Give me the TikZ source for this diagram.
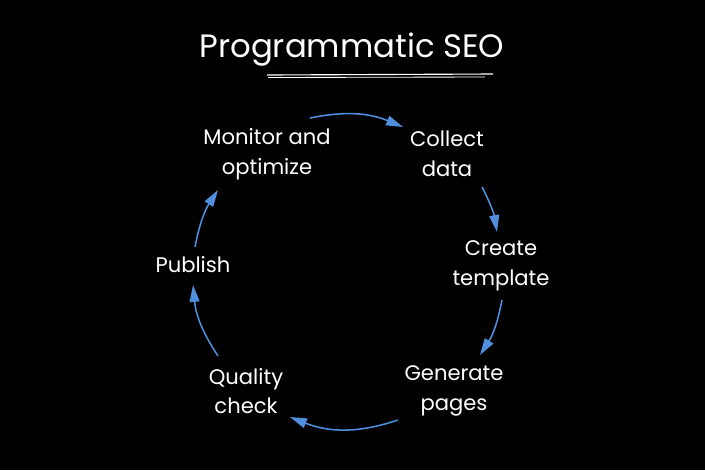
\documentclass[tikz,border=0pt]{standalone}
\usepackage{fontspec}
\setmainfont{Poppins}
\usetikzlibrary{arrows.meta}
\definecolor{flowblue}{HTML}{4F8FDD}

\begin{document}
\begin{tikzpicture}[x=0.025cm, y=-0.025cm, >={Triangle[length=12pt, width=7pt]},
    line width=1.1pt, font=\fontsize{15}{21}\selectfont,
    stage/.style={text=white, align=center, inner sep=0pt},
    flow/.style={flowblue, ->}]
  \fill[black] (0,0) rectangle (705,470);
  \useasboundingbox (0,0) rectangle (705,470);
  % title
  \node[stage, font=\fontsize{23}{27}\selectfont] (title) at (352,50) {Programmatic SEO};
  \draw[white, line width=0.8pt] (267,75) -- (493,74);
  \draw[white, line width=0.6pt] (268,77.5) -- (485,77);
  % stages
  \node[stage] (mon) at (267,154) {Monitor and\\optimize};
  \node[stage] (col) at (447,154) {Collect\\data};
  \node[stage] (cre) at (501,266) {Create\\template};
  \node[stage] (gen) at (454,391) {Generate\\pages};
  \node[stage] (qua) at (246,391) {Quality\\check};
  \node[stage] (pub) at (193,265) {Publish};
  % cycle
  \draw[flow] ([shift={(43,-36)}]mon.center) to[bend left=17] ([shift={(-44,-27)}]col.center);
  \draw[flow] ([shift={(35,33)}]col.center) to[bend left=9] ([shift={(-4,-34)}]cre.center);
  \draw[flow] ([shift={(1,34)}]cre.center) to[bend left=11] ([shift={(26,-36)}]gen.center);
  \draw[flow] ([shift={(-56,29)}]gen.center) to[bend left=20] ([shift={(44,26)}]qua.center);
  \draw[flow] ([shift={(-28,-35)}]qua.center) to[bend left=14] ([shift={(0,20)}]pub.center);
  \draw[flow] ([shift={(2,-18)}]pub.center) to[bend left=11] ([shift={(-49,36)}]mon.center);
\end{tikzpicture}
\end{document}
